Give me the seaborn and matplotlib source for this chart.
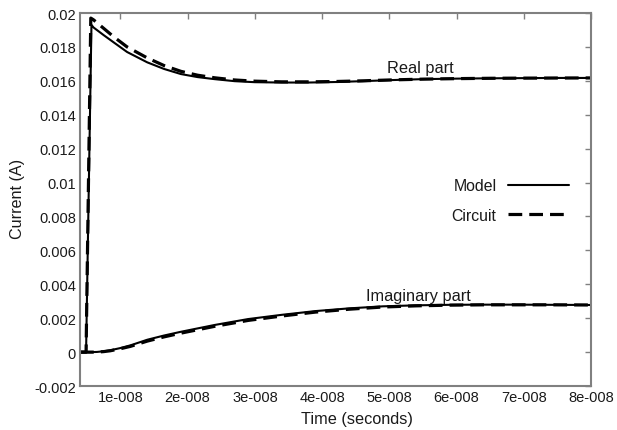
import numpy as np
import pandas as pd
import matplotlib
matplotlib.use("Agg")
import matplotlib.pyplot as plt
from matplotlib.lines import Line2D
import seaborn as sns

# ---- data (time in nanoseconds, current in A) ----
t_real_model = [4.0, 4.9, 5.7, 6.0, 7.5, 9.0, 11.0, 14.0, 16.5, 19.0, 21.5, 24.0, 27.0,
                30.0, 34.0, 38.0, 42.0, 46.0, 50.0, 55.0, 60.0, 65.0, 70.0, 75.0, 80.0]
i_real_model = [0.0, 0.0, 0.0193, 0.01915, 0.0187, 0.01827, 0.0177, 0.01709, 0.0167,
                0.0164, 0.01622, 0.0161, 0.01598, 0.01592, 0.0159, 0.0159, 0.01593,
                0.01598, 0.01604, 0.0161, 0.01613, 0.01615, 0.01616, 0.01617, 0.01617]

t_real_circuit = [4.0, 4.9, 5.6, 6.0, 7.5, 9.0, 11.0, 14.0, 16.5, 19.0, 21.5, 24.0, 27.0,
                  30.0, 34.0, 38.0, 42.0, 46.0, 50.0, 55.0, 60.0, 65.0, 70.0, 80.0]
i_real_circuit = [0.0, 0.0, 0.0197, 0.0196, 0.0191, 0.0186, 0.0180, 0.01735, 0.0169,
                  0.01656, 0.01633, 0.01618, 0.01605, 0.01598, 0.01594, 0.01594,
                  0.01596, 0.016, 0.01605, 0.0161, 0.01613, 0.01615, 0.01616, 0.01617]

t_imag = [4.0, 5.5, 6.5, 7.5, 8.5, 10.0, 11.5, 14.0, 16.5, 19.0, 24.0, 29.0, 34.0, 39.0,
          44.0, 49.0, 54.0, 59.0, 64.0, 69.0, 74.0, 80.0]
i_imag_model = [0.0, 0.0, 0.00001, 0.00005, 0.00011, 0.00024, 0.0004, 0.00073, 0.00098,
                0.0012, 0.0016, 0.00195, 0.0022, 0.00242, 0.00258, 0.0027, 0.00276,
                0.00279, 0.0028, 0.0028, 0.00279, 0.00278]
i_imag_circuit = [0.0, 0.0, 0.0, 0.00003, 0.00008, 0.0002, 0.00034, 0.00065, 0.0009,
                  0.00112, 0.00152, 0.00187, 0.00213, 0.00236, 0.00253, 0.00266,
                  0.00273, 0.00277, 0.00279, 0.00279, 0.00279, 0.00278]

x_ticks = [1e-8, 2e-8, 3e-8, 4e-8, 5e-8, 6e-8, 7e-8, 8e-8]
x_tick_labels = ["1e-008", "2e-008", "3e-008", "4e-008", "5e-008", "6e-008", "7e-008", "8e-008"]
y_ticks = [-0.002, 0, 0.002, 0.004, 0.006, 0.008, 0.01, 0.012, 0.014, 0.016, 0.018, 0.02]
y_tick_labels = ["-0.002", "0", "0.002", "0.004", "0.006", "0.008", "0.01", "0.012",
                 "0.014", "0.016", "0.018", "0.02"]
legend_labels = ["Model", "Circuit"]

# ---- style ----
sns.set_style("white")
plt.rcParams["font.family"] = ["Liberation Sans", "DejaVu Sans"]
plt.rcParams["font.size"] = 10.5

TXT = "#1a1a1a"
fig = plt.figure(figsize=(6.17, 4.31), dpi=100)
ax = fig.add_axes([0.1297, 0.102, 0.8283, 0.8655])

def df(t, i):
    return pd.DataFrame({"t": np.array(t) * 1e-9, "i": i})

dash = (4.3, 2.2)
sns.lineplot(data=df(t_real_model, i_real_model), x="t", y="i", ax=ax,
             color="black", lw=1.5, estimator=None, sort=False)
sns.lineplot(data=df(t_real_circuit, i_real_circuit), x="t", y="i", ax=ax,
             color="black", lw=2.3, estimator=None, sort=False)
ax.lines[-1].set_dashes(dash)
sns.lineplot(data=df(t_imag, i_imag_model), x="t", y="i", ax=ax,
             color="black", lw=1.5, estimator=None, sort=False)
sns.lineplot(data=df(t_imag, i_imag_circuit), x="t", y="i", ax=ax,
             color="black", lw=2.3, estimator=None, sort=False)
ax.lines[-1].set_dashes(dash)

ax.set_xlim(4e-9, 8e-8)
ax.set_ylim(-0.002, 0.02)
ax.set_xticks(x_ticks)
ax.set_xticklabels(x_tick_labels)
ax.set_yticks(y_ticks)
ax.set_yticklabels(y_tick_labels)
ax.tick_params(direction="in", length=4, width=1, color="#808080",
               top=True, right=True, labelcolor=TXT, labelsize=10.5, pad=3)
for s in ax.spines.values():
    s.set_color("#808080")
    s.set_linewidth(1.5)

ax.set_xlabel("Time (seconds)", fontsize=11.7, color=TXT)
ax.xaxis.set_label_coords(0.542, -0.086)
ax.xaxis.label.set_va("center")
ax.set_ylabel("Current (A)", fontsize=11.6, color=TXT)
ax.yaxis.set_label_coords(-0.123, 0.505)
ax.yaxis.label.set_va("center")

ax.text(5.46e-8, 0.0168, "Real part", ha="center", va="center", fontsize=11.8, color=TXT)
ax.text(5.43e-8, 0.00336, "Imaginary part", ha="center", va="center", fontsize=11.8, color=TXT)

handles = [Line2D([], [], color="black", lw=1.5),
           Line2D([], [], color="black", lw=2.3, dashes=dash)]
leg = ax.legend(handles, legend_labels, markerfirst=False, frameon=False,
                loc="upper right", bbox_to_anchor=(0.956, 0.557), borderpad=0,
                borderaxespad=0, handlelength=3.8, handletextpad=0.76,
                labelspacing=0.9, fontsize=11.4)
for txt in leg.get_texts():
    txt.set_ha("right")
    txt.set_color(TXT)

fig.savefig("out.png", dpi=100)
